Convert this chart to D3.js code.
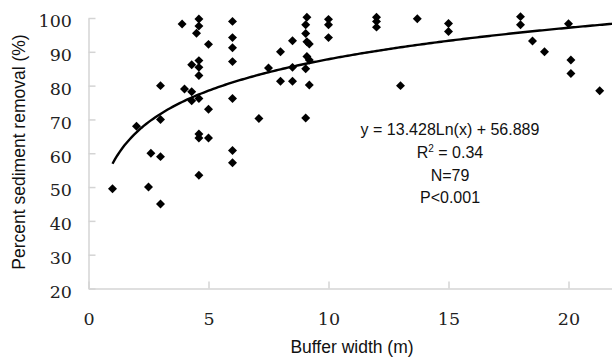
<!DOCTYPE html>
<html>
<head>
<meta charset="utf-8">
<script src="https://cdn.jsdelivr.net/npm/d3@7"></script>
<style>
  body { margin: 0; background: #fff; }
  svg { display: block; }
</style>
</head>
<body>
<svg width="612" height="358"></svg>
<script>
// data (overlapping points are drawn once)
var bufferWidth = [1, 2, 2.5, 2.6, 3, 3, 3, 3, 3.9, 4.6, 4.6, 4.5, 5, 4.3, 4.6, 4.6, 4.6,
    4, 4.3, 4.3, 4.6, 5, 4.6, 4.6, 5, 4.6, 6, 6, 6, 6, 6, 6, 6, 7.1, 7.5, 8, 8,
    8.5, 8.5, 8.5, 9.1, 9.05, 9.05, 9.1, 9.2, 9.1, 9.2, 9.05, 9.2, 9.05, 10, 10, 10,
    12, 12, 12, 13, 13.7, 15, 15, 18, 18, 18.5, 19, 20, 20.1, 20.1, 21.3];
var sedimentRemoval = [49.5, 68, 50, 60, 59, 45, 80, 70, 98.2, 99.7, 97.6, 95.5, 92.2, 86.2, 87.4, 85.4, 83,
    79, 78.2, 75.5, 76.2, 73, 65.7, 64.5, 64.5, 53.5, 99, 94.2, 91.2, 87.1, 76.2, 60.8, 57.2, 70.3, 85.2, 90, 81.3,
    93.3, 85.4, 81.3, 100.2, 98, 95.4, 93, 92.3, 88.6, 87.6, 85, 80.2, 70.4, 99.6, 98, 94.2,
    100.2, 99, 97.3, 80, 99.8, 98.4, 96, 100.4, 98, 93.2, 90, 98.3, 87.6, 83.6, 78.5];
var xTicks = [0, 5, 10, 15, 20];
var yTicks = [20, 30, 40, 50, 60, 70, 80, 90, 100];
// trendline y = a*Ln(x) + b
var fitA = 13.428;
var fitB = 56.889;
var statLines = ['y = 13.428Ln(x) + 56.889', 'R2 = 0.34', 'N=79', 'P<0.001'];

var svg = d3.select('svg');
var xScale = d3.scaleLinear().domain([0, 22]).range([88.5, 616.5]);
var yScale = d3.scaleLinear().domain([20, 100]).range([288.5, 18]);

var serif = 'DejaVu Serif';
var sans = '"Liberation Sans", Arial, sans-serif';

// axes
var xAxisG = svg.append('g')
    .attr('transform', 'translate(0,' + yScale(20) + ')')
    .call(d3.axisBottom(xScale).tickValues(xTicks).tickSizeInner(-7).tickSizeOuter(0).tickPadding(24));
var yAxisG = svg.append('g')
    .attr('transform', 'translate(' + xScale(0) + ',0)')
    .call(d3.axisLeft(yScale).tickValues(yTicks).tickSizeInner(-7).tickSizeOuter(0).tickPadding(16.5));

svg.selectAll('.domain, .tick line')
    .attr('stroke', '#d4d4d4')
    .attr('stroke-width', 1.5);
svg.selectAll('.tick text')
    .attr('fill', '#222')
    .attr('font-family', serif)
    .attr('font-size', 17.5)
    .style('font-family', serif);
yAxisG.selectAll('.tick text').attr('dy', '0.5em');

// trendline
var curveX = d3.range(1, 22.6, 0.1);
var line = d3.line()
    .x(function(d) { return xScale(d); })
    .y(function(d) { return yScale(fitA * Math.log(d) + fitB); });
svg.append('path')
    .datum(curveX)
    .attr('d', line)
    .attr('fill', 'none')
    .attr('stroke', '#000')
    .attr('stroke-width', 2.4);

// points
var diamond = d3.symbol().type(d3.symbolSquare).size(40);
svg.selectAll('.dot')
    .data(bufferWidth)
    .enter()
    .append('path')
    .attr('class', 'dot')
    .attr('d', diamond)
    .attr('fill', '#000')
    .attr('transform', function(d, i) {
        return 'translate(' + [xScale(d), yScale(sedimentRemoval[i])] + ')rotate(45)';
    });

// stats text
var statG = svg.append('g')
    .attr('transform', 'translate(450,0)')
    .style('font-family', sans)
    .style('font-size', '16px')
    .attr('fill', '#111')
    .attr('text-anchor', 'middle');
statLines.forEach(function(s, i) {
    var t = statG.append('text').attr('y', 135 + i * 22.8);
    if (s.indexOf('R2') === 0) {
        t.append('tspan').text('R');
        t.append('tspan').text('2').attr('dy', -6).style('font-size', '10px');
        t.append('tspan').text(s.slice(2)).attr('dy', 6);
    } else {
        t.text(s);
    }
});

// axis titles
svg.append('text')
    .attr('x', 352)
    .attr('y', 353)
    .attr('text-anchor', 'middle')
    .style('font-family', sans)
    .style('font-size', '17.5px')
    .attr('fill', '#111')
    .text('Buffer width (m)');
svg.append('text')
    .attr('transform', 'translate(25,152)rotate(-90)')
    .attr('text-anchor', 'middle')
    .style('font-family', sans)
    .style('font-size', '17.5px')
    .attr('fill', '#111')
    .text('Percent sediment removal (%)');
</script>
</body>
</html>
